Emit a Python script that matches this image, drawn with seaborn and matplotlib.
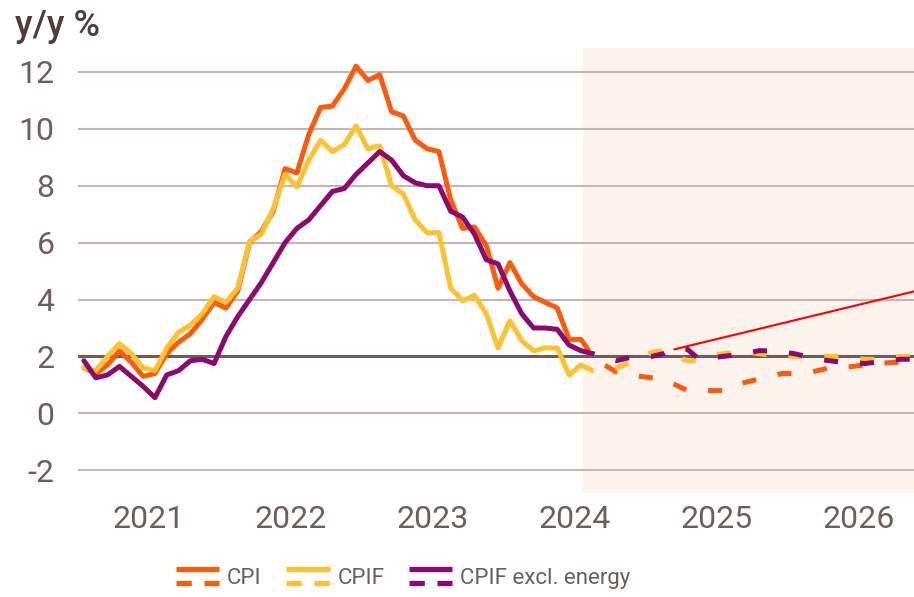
import pandas as pd
import numpy as np
import matplotlib.pyplot as plt
import seaborn as sns
from matplotlib.lines import Line2D
from matplotlib.legend_handler import HandlerBase

# monthly outcomes, Jan 2021 - Jul 2024
cpi = [1.6, 1.4, 1.7, 2.2, 1.8, 1.3, 1.4, 2.1, 2.5, 2.8, 3.3, 3.9,
       3.7, 4.3, 6.0, 6.4, 7.1, 8.6, 8.45, 9.8, 10.75, 10.8, 11.4, 12.2,
       11.7, 11.9, 10.6, 10.45, 9.6, 9.3, 9.2, 7.5, 6.5, 6.55, 5.9, 4.4,
       5.3, 4.55, 4.1, 3.9, 3.7, 2.6, 2.6]
cpif = [1.6, 1.5, 2.0, 2.45, 2.1, 1.6, 1.5, 2.3, 2.85, 3.1, 3.5, 4.1,
        3.9, 4.4, 6.05, 6.3, 7.2, 8.4, 7.95, 8.9, 9.6, 9.2, 9.45, 10.1,
        9.3, 9.4, 8.0, 7.7, 6.8, 6.35, 6.35, 4.4, 3.95, 4.15, 3.5, 2.3,
        3.25, 2.55, 2.2, 2.3, 2.3, 1.35, 1.7]
cpif_xe = [1.85, 1.25, 1.35, 1.65, 1.3, 0.95, 0.55, 1.35, 1.5, 1.85, 1.9, 1.75,
           2.7, 3.4, 4.0, 4.6, 5.3, 6.0, 6.5, 6.8, 7.3, 7.8, 7.9, 8.4,
           8.8, 9.2, 8.9, 8.35, 8.1, 8.0, 8.0, 7.1, 6.9, 6.3, 5.4, 5.25,
           4.3, 3.5, 3.0, 3.0, 2.95, 2.4, 2.2]

# forecasts, Jul 2024 - Dec 2026 (starting from last outcome)
cpi_fc = [2.6, 2.0, 1.7, 1.45, 1.35, 1.3,
          1.25, 1.2, 1.0, 0.8, 0.8, 0.8, 0.8, 1.0, 1.1, 1.2, 1.3, 1.4,
          1.4, 1.4, 1.5, 1.6, 1.6, 1.65, 1.7, 1.75, 1.78, 1.8, 1.8, 1.85]
cpif_fc = [1.7, 1.5, 1.5, 1.6, 1.75, 1.95,
           2.15, 2.2, 2.0, 1.85, 1.85, 2.0, 2.1, 2.15, 2.15, 2.1, 2.05, 2.0,
           2.0, 2.0, 2.0, 2.0, 2.0, 1.95, 1.9, 1.9, 1.95, 2.0, 2.0, 2.0]
cpif_xe_fc = [2.2, 2.1, 1.95, 1.85, 1.95, 2.0,
              2.0, 2.1, 2.3, 2.25, 1.9, 1.95, 2.0, 2.05, 2.1, 2.2, 2.2, 2.15,
              2.1, 2.0, 1.9, 1.85, 1.8, 1.8, 1.75, 1.8, 1.85, 1.9, 1.9, 1.9]

series = ['CPI', 'CPIF', 'CPIF excl. energy']
colors = ['#ff5a0a', '#ffc22e', '#8c0a6e']
years = [2021, 2022, 2023, 2024, 2025, 2026]
yticks = [-2, 0, 2, 4, 6, 8, 10, 12]
forecast_start = 2024.555
pointer = ([2025.2, 2027.0], [2.25, 4.42])

out_m = pd.period_range('2021-01', '2024-07', freq='M')
fc_m = pd.period_range('2024-07', '2026-12', freq='M')
out_x = out_m.year + (out_m.month - 0.5) / 12
fc_x = fc_m.year + (fc_m.month - 0.5) / 12

frames = []
for name, o, f in zip(series, [cpi, cpif, cpif_xe], [cpi_fc, cpif_fc, cpif_xe_fc]):
    frames.append(pd.DataFrame({'x': out_x, 'value': o, 'series': name, 'kind': 'outcome'}))
    frames.append(pd.DataFrame({'x': fc_x, 'value': f, 'series': name, 'kind': 'forecast'}))
df = pd.concat(frames, ignore_index=True)

sns.set_style('white')
plt.rcParams['font.family'] = ['Roboto', 'DejaVu Sans']
plt.rcParams['axes.unicode_minus'] = False
txt = '#6d5e5e'

fig, ax = plt.subplots(figsize=(9.14, 5.97), dpi=100)
fig.subplots_adjust(left=78/914, right=1.0, top=1-48/597, bottom=1-493/597)

ax.axvspan(forecast_start, 2028, color='#fbf3ec', lw=0, zorder=0)
for y in yticks:
    if y == 2:
        ax.axhline(y, color='#6e5c5c', lw=2.2, zorder=1)
    else:
        ax.axhline(y, color='#c2b6b6', lw=1.5, zorder=1)

sns.lineplot(data=df, x='x', y='value', hue='series', style='kind',
             hue_order=series, palette=colors,
             dashes={'outcome': '', 'forecast': (2.8, 4.4)},
             lw=3.6, sort=False, estimator=None, legend=False, ax=ax, zorder=3)
for line in ax.lines:
    line.set_solid_joinstyle('round')

ax.plot(pointer[0], pointer[1], color='#ff0000', lw=1.5, zorder=4)

ax.set_xlim(2021.0, 2021 + 836 / 142)
ax.set_ylim(-2.8, 12.84)
ax.set_xticks([y + 0.5 for y in years])
ax.set_xticklabels([str(y) for y in years])
ax.set_yticks(yticks)
ax.set_yticklabels([str(y) for y in yticks])
ax.set_xlabel('')
ax.set_ylabel('')
ax.tick_params(axis='both', length=0, labelsize=23, colors=txt)
ax.tick_params(axis='y', pad=17)
ax.tick_params(axis='x', pad=8.5)
sns.despine(ax=ax, left=True, bottom=True)

fig.text(15/914, 1-27/597, 'y/y %', fontsize=26, color='#4f3d3d',
         va='center', ha='left', fontweight='medium')


class SolidOverDashed(HandlerBase):
    def create_artists(self, legend, orig_handle, xdescent, ydescent,
                       width, height, fontsize, trans):
        c = orig_handle.get_color()
        xs = [-xdescent, -xdescent + width]
        y0 = height / 2 - ydescent
        top = Line2D(xs, [y0 + 5.2] * 2, color=c, lw=3.8,
                     solid_capstyle='butt', transform=trans)
        bot = Line2D(xs, [y0 - 5.2] * 2, color=c, lw=3.8,
                     dashes=(2.9, 2.4), transform=trans)
        return [top, bot]


handles = [Line2D([], [], color=c) for c in colors]
leg = fig.legend(handles, series, loc='center', bbox_to_anchor=(0.441, 0.031),
                 ncol=3, frameon=False, handlelength=1.95, handletextpad=0.35,
                 columnspacing=1.1, handler_map={Line2D: SolidOverDashed()},
                 prop={'family': ['Liberation Sans Narrow', 'Roboto'], 'size': 16})
for t in leg.get_texts():
    t.set_color(txt)

fig.savefig('out.png', dpi=100)
